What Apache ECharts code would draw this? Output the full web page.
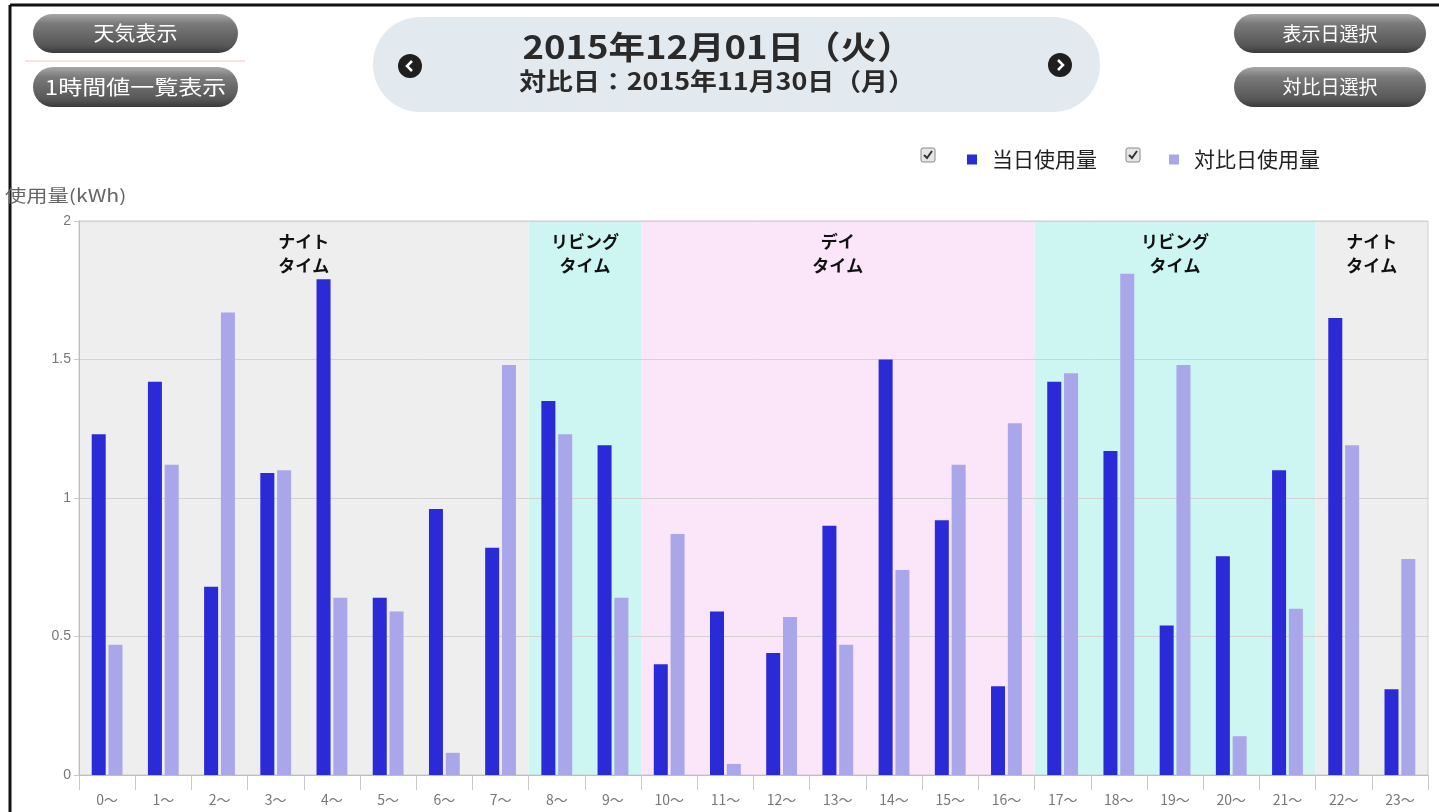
<!DOCTYPE html>
<html lang="ja">
<head>
<meta charset="utf-8">
<title>使用量グラフ</title>
<script src="https://cdn.jsdelivr.net/npm/echarts@6/dist/echarts.min.js"></script>
<style>
  html, body { margin: 0; padding: 0; background: #ffffff; }
  #chart { width: 1439px; height: 812px; }
</style>
</head>
<body>
<div id="chart"></div>
<script>
// Hourly categories (x axis tick labels)
const hourLabels = ['0〜','1〜','2〜','3〜','4〜','5〜','6〜','7〜','8〜','9〜','10〜','11〜',
                    '12〜','13〜','14〜','15〜','16〜','17〜','18〜','19〜','20〜','21〜','22〜','23〜'];

// Usage for the displayed day (kWh)
const todayUsage = [1.23, 1.42, 0.68, 1.09, 1.79, 0.64, 0.96, 0.82, 1.35, 1.19, 0.40, 0.59,
                    0.44, 0.90, 1.50, 0.92, 0.32, 1.42, 1.17, 0.54, 0.79, 1.10, 1.65, 0.31];

// Usage for the comparison day (kWh)
const compareUsage = [0.47, 1.12, 1.67, 1.10, 0.64, 0.59, 0.08, 1.48, 1.23, 0.64, 0.87, 0.04,
                      0.57, 0.47, 0.74, 1.12, 1.27, 1.45, 1.81, 1.48, 0.14, 0.60, 1.19, 0.78];

// Y axis ticks
const yTicks = [0, 0.5, 1, 1.5, 2];

// Tariff time bands (hour ranges)
const bandStart = [0, 8, 10, 17, 22];
const bandEnd   = [8, 10, 17, 22, 24];
const bandName  = ['ナイト\nタイム', 'リビング\nタイム', 'デイ\nタイム', 'リビング\nタイム', 'ナイト\nタイム'];
const bandKind  = ['night', 'living', 'day', 'living', 'night'];

const seriesNames = ['当日使用量', '対比日使用量'];
const titleText = '2015年12月01日（火）';
const subTitleText = '対比日：2015年11月30日（月）';

const bandColors = { night: '#eeeeee', living: '#cdf5f1', day: '#fbe5f8' };
const JP = '"Noto Sans CJK JP", "Noto Sans", sans-serif';

const chart = echarts.init(document.getElementById('chart'));

// Gray pill button
function pillButton(x, y, w, h, label, fontSize, stretch) {
  return {
    type: 'group', x: x, y: y,
    children: [
      { type: 'rect', shape: { x: 0, y: 0, width: w, height: h, r: h / 2 },
        style: { fill: new echarts.graphic.LinearGradient(0, 0, 0, 1, [
          { offset: 0, color: '#a8a8a8' }, { offset: 0.25, color: '#7a7a7a' },
          { offset: 0.8, color: '#575757' }, { offset: 1, color: '#3a3a3a' }]) } },
      { type: 'text', x: w / 2, y: h / 2, scaleX: stretch,
        style: { text: label, align: 'center', verticalAlign: 'middle',
                 font: fontSize + 'px ' + JP, fill: '#ffffff' } }
    ]
  };
}

// Round dark arrow button
function arrowButton(cx, cy, dir) {
  const pts = dir < 0 ? [[2, -5], [-3, 0], [2, 5]] : [[-2, -5], [3, 0], [-2, 5]];
  return {
    type: 'group', x: cx, y: cy,
    children: [
      { type: 'circle', shape: { cx: 0, cy: 0, r: 12 }, style: { fill: '#1f1f1f' } },
      { type: 'polyline', shape: { points: pts },
        style: { fill: null, stroke: '#ffffff', lineWidth: 2.5 } }
    ]
  };
}

// Checked checkbox in front of each legend item
function checkBox(x, y) {
  return {
    type: 'group', x: x, y: y,
    children: [
      { type: 'rect', shape: { x: 0, y: 0, width: 14, height: 14, r: 2 },
        style: { fill: '#e6e6e6', stroke: '#8a8a8a', lineWidth: 1 } },
      { type: 'polyline', shape: { points: [[3, 7], [6, 10], [11, 3]] },
        style: { fill: null, stroke: '#333333', lineWidth: 2 } }
    ]
  };
}

const bandData = bandStart.map((s, i) => [s, bandEnd[i], bandName[i], bandKind[i]]);

const option = {
  animation: false,
  backgroundColor: '#ffffff',
  textStyle: { fontFamily: JP },
  legend: {
    data: seriesNames,
    left: 962, top: 144,
    icon: 'rect', itemWidth: 10, itemHeight: 10, itemGap: 72,
    textStyle: { fontSize: 21, color: '#222222', fontFamily: JP, padding: [0, 0, 0, 10] },
    selectedMode: false
  },
  grid: {
    left: 79, right: 11, top: 221, bottom: 37,
    containLabel: false, outerBoundsMode: 'none',
    show: true, borderColor: '#cfcfcf', borderWidth: 1, backgroundColor: 'transparent'
  },
  xAxis: [
    {
      type: 'category', data: hourLabels, boundaryGap: true,
      axisLine: { lineStyle: { color: '#bdbdbd' } },
      axisTick: { show: true, length: 15, lineStyle: { color: '#c8c8c8' } },
      axisLabel: { color: '#777777', fontSize: 14, margin: 18, fontFamily: JP }
    },
    { type: 'value', min: 0, max: 24, show: false }
  ],
  yAxis: {
    type: 'value', min: yTicks[0], max: yTicks[yTicks.length - 1], interval: 0.5,
    axisLine: { show: true, lineStyle: { color: '#bdbdbd' } },
    axisTick: { show: true, length: 5, lineStyle: { color: '#c8c8c8' } },
    axisLabel: { color: '#777777', fontSize: 14, margin: 8, fontFamily: '"Liberation Sans", Arial, sans-serif' },
    splitLine: { lineStyle: { color: '#d2d2d2' } }
  },
  series: [
    {
      type: 'custom', xAxisIndex: 1, yAxisIndex: 0, z: -1, silent: true,
      data: bandData,
      renderItem: function (params, api) {
        const top = api.coord([api.value(0), yTicks[yTicks.length - 1]]);
        const bot = api.coord([api.value(1), yTicks[0]]);
        const item = bandData[params.dataIndex];
        return {
          type: 'group',
          children: [
            { type: 'rect', shape: { x: top[0], y: top[1], width: bot[0] - top[0], height: bot[1] - top[1] },
              style: { fill: bandColors[item[3]] } },
            { type: 'text', x: (top[0] + bot[0]) / 2, y: top[1] + 9,
              style: { text: item[2], align: 'center', verticalAlign: 'top',
                       font: 'bold 17px ' + JP, lineHeight: 24, fill: '#111111' } }
          ]
        };
      }
    },
    {
      name: seriesNames[0], type: 'bar', data: todayUsage,
      barWidth: 14, barGap: '20%',
      itemStyle: { color: '#2a2ad6' }
    },
    {
      name: seriesNames[1], type: 'bar', data: compareUsage,
      barWidth: 14,
      itemStyle: { color: '#aaa6ea' }
    }
  ],
  graphic: [
    // page frame
    { type: 'line', shape: { x1: 10, y1: 5, x2: 1439, y2: 5 }, style: { stroke: '#111111', lineWidth: 3 } },
    { type: 'line', shape: { x1: 10, y1: 5, x2: 10, y2: 812 }, style: { stroke: '#111111', lineWidth: 3 } },
    // left buttons
    pillButton(33, 14, 205, 39, '天気表示', 20, 1.05),
    { type: 'line', shape: { x1: 25, y1: 61, x2: 245, y2: 61 }, style: { stroke: '#f2c4c4', lineWidth: 1 } },
    pillButton(33, 67, 205, 40, '1時間値一覧表示', 20, 1.2),
    // right buttons
    pillButton(1234, 14, 192, 39, '表示日選択', 19, 1),
    pillButton(1234, 67, 192, 40, '対比日選択', 19, 1),
    // date header
    { type: 'rect', shape: { x: 373, y: 17, width: 727, height: 95, r: 47 }, style: { fill: '#e2eaf0' } },
    arrowButton(410, 66, -1),
    arrowButton(1060, 65, 1),
    { type: 'text', x: 718, y: 47, scaleX: 1.14,
      style: { text: titleText, align: 'center', verticalAlign: 'middle',
               font: 'bold 32px ' + JP, fill: '#2a2a2a' } },
    { type: 'text', x: 717, y: 81, scaleX: 1.12,
      style: { text: subTitleText, align: 'center', verticalAlign: 'middle',
               font: 'bold 24px ' + JP, fill: '#2a2a2a' } },
    // legend checkboxes
    checkBox(921, 148),
    checkBox(1126, 148),
    // y axis name
    { type: 'text', x: 5, y: 196, scaleX: 1.25,
      style: { text: '使用量(kWh)', align: 'left', verticalAlign: 'middle',
               font: '17px ' + JP, fill: '#666666' } }
  ]
};

chart.setOption(option);
</script>
</body>
</html>
